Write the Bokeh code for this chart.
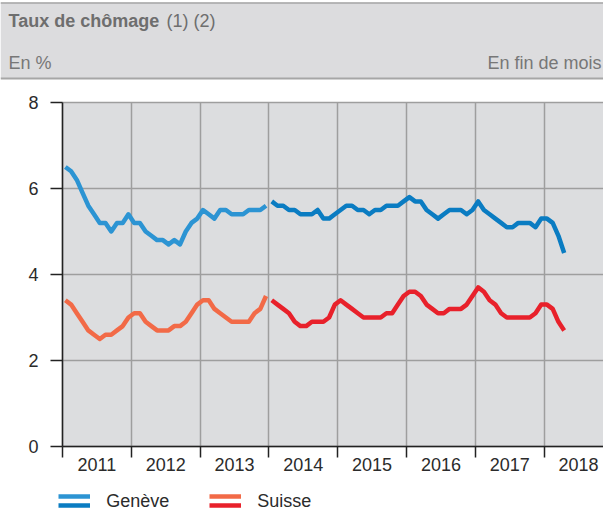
from bokeh.plotting import figure
from bokeh.models import (Range1d, FixedTicker, Legend, LegendItem, Label, Span,
                          BoxAnnotation)
from bokeh.embed import file_html
from bokeh.resources import INLINE

# ---------------- data ----------------
years = [2011, 2012, 2013, 2014, 2015, 2016, 2017, 2018]
y_ticks = [0, 2, 4, 6, 8]

# Monthly unemployment rate (%), series 1: Jan 2011 - Dec 2013
geneve_2011_2013 = [6.5, 6.4, 6.2, 5.9, 5.6, 5.4, 5.2, 5.2, 5.0, 5.2, 5.2, 5.4,
                    5.2, 5.2, 5.0, 4.9, 4.8, 4.8, 4.7, 4.8, 4.7, 5.0, 5.2, 5.3,
                    5.5, 5.4, 5.3, 5.5, 5.5, 5.4, 5.4, 5.4, 5.5, 5.5, 5.5, 5.6]
suisse_2011_2013 = [3.4, 3.3, 3.1, 2.9, 2.7, 2.6, 2.5, 2.6, 2.6, 2.7, 2.8, 3.0,
                    3.1, 3.1, 2.9, 2.8, 2.7, 2.7, 2.7, 2.8, 2.8, 2.9, 3.1, 3.3,
                    3.4, 3.4, 3.2, 3.1, 3.0, 2.9, 2.9, 2.9, 2.9, 3.1, 3.2, 3.5]
# series 2: Jan 2014 - Apr 2018
geneve_2014_2018 = [5.7, 5.6, 5.6, 5.5, 5.5, 5.4, 5.4, 5.4, 5.5, 5.3, 5.3, 5.4,
                    5.5, 5.6, 5.6, 5.5, 5.5, 5.4, 5.5, 5.5, 5.6, 5.6, 5.6, 5.7,
                    5.8, 5.7, 5.7, 5.5, 5.4, 5.3, 5.4, 5.5, 5.5, 5.5, 5.4, 5.5,
                    5.7, 5.5, 5.4, 5.3, 5.2, 5.1, 5.1, 5.2, 5.2, 5.2, 5.1, 5.3,
                    5.3, 5.2, 4.9, 4.5]
suisse_2014_2018 = [3.4, 3.3, 3.2, 3.1, 2.9, 2.8, 2.8, 2.9, 2.9, 2.9, 3.0, 3.3,
                    3.4, 3.3, 3.2, 3.1, 3.0, 3.0, 3.0, 3.0, 3.1, 3.1, 3.3, 3.5,
                    3.6, 3.6, 3.5, 3.3, 3.2, 3.1, 3.1, 3.2, 3.2, 3.2, 3.3, 3.5,
                    3.7, 3.6, 3.4, 3.3, 3.1, 3.0, 3.0, 3.0, 3.0, 3.0, 3.1, 3.3,
                    3.3, 3.2, 2.9, 2.7]
start_old = 2011
start_new = 2014

title_bold = "Taux de chômage"
title_notes = "(1) (2)"
unit_left = "En %"
unit_right = "En fin de mois"
series_names = ["Genève", "Suisse"]

# ---------------- style / layout ----------------
FONT = "Liberation Sans"
BAND = "#dcdcde"
PLOT_BG = "#dcdddf"
GRID = "#9e9e9e"
AXIS = "#222222"
TXT = "#2b2b2b"
HDR_TXT = "#6e6e6e"
C_GE_OLD = "#2c94d3"
C_GE_NEW = "#0a7cc2"
C_CH_OLD = "#f26a47"
C_CH_NEW = "#e8212b"

W, H = 603, 511
LEFT_PX, TOP_PX, BOTTOM_PX = 62, 102, 446     # plot area edges in pixels
PX_PER_YEAR = 68.8
Y_MAX = 8
PX_PER_UNIT = (BOTTOM_PX - TOP_PX) / Y_MAX


def px_x(px):
    return years[0] + (px - LEFT_PX) / PX_PER_YEAR


def px_y(py):
    return (BOTTOM_PX - py) / PX_PER_UNIT


def month_x(start, n):
    return [start + (i + 0.5) / 12 for i in range(n)]


x_end = px_x(W)
p = figure(width=W, height=H, x_range=Range1d(px_x(0), x_end),
           y_range=Range1d(px_y(H), px_y(0)),
           output_backend="svg", toolbar_location=None,
           min_border=0, min_border_left=0, min_border_right=0,
           min_border_top=0, min_border_bottom=0)
p.background_fill_color = "white"
p.border_fill_color = "white"
p.outline_line_color = None

# plot area and header band backgrounds
p.add_layout(BoxAnnotation(left=years[0], bottom=0, top=Y_MAX, fill_color=PLOT_BG,
                           fill_alpha=1, line_color=None, level="image"))
p.add_layout(BoxAnnotation(bottom=px_y(78), top=px_y(2), fill_color=BAND,
                           fill_alpha=1, line_color=None, level="image"))
p.add_layout(Span(location=px_y(2.5), dimension="width", line_color="#a6a6a6",
                  line_width=1.5, level="underlay"))
p.add_layout(Span(location=px_y(78), dimension="width", line_color="#a6a6a6",
                  line_width=2, level="underlay"))

# header texts
p.add_layout(Label(x=px_x(8), y=px_y(20), text=title_bold, text_font=FONT,
                   text_font_style="bold", text_font_size="18px",
                   text_color=HDR_TXT, text_baseline="middle"))
p.add_layout(Label(x=px_x(166), y=px_y(20), text=title_notes, text_font=FONT,
                   text_font_size="18px", text_color=HDR_TXT, text_baseline="middle"))
p.add_layout(Label(x=px_x(8), y=px_y(62), text=unit_left, text_font=FONT,
                   text_font_size="18px", text_color="#777777", text_baseline="middle"))
p.add_layout(Label(x=px_x(601), y=px_y(62), text=unit_right, text_font=FONT,
                   text_font_size="18px", text_color="#777777", text_baseline="middle",
                   text_align="right"))

# axes at fixed locations
mids = [y + 0.5 for y in years]
p.xaxis.fixed_location = 0
p.xaxis.bounds = (years[0], x_end)
p.xaxis.ticker = FixedTicker(ticks=mids, minor_ticks=years)
p.xaxis.major_label_overrides = {m: str(y) for m, y in zip(mids, years)}
p.xaxis.major_tick_line_color = None
p.xaxis.major_tick_out = 0
p.xaxis.major_tick_in = 0
p.xaxis.minor_tick_out = 11
p.xaxis.minor_tick_in = 0
p.xaxis.minor_tick_line_color = AXIS
p.xaxis.minor_tick_line_width = 1.5
p.xaxis.major_label_standoff = 0

p.yaxis.fixed_location = years[0]
p.yaxis.bounds = (0, Y_MAX)
p.yaxis.ticker = FixedTicker(ticks=y_ticks)
p.yaxis.major_tick_out = 12
p.yaxis.major_tick_in = 0
p.yaxis.major_tick_line_color = AXIS
p.yaxis.major_tick_line_width = 1.5
p.yaxis.minor_tick_line_color = None
p.yaxis.major_label_standoff = 12

for ax in (p.xaxis, p.yaxis):
    ax.axis_line_color = AXIS
    ax.axis_line_width = 1.5
    ax.major_label_text_font = FONT
    ax.major_label_text_font_size = "18px"
    ax.major_label_text_color = TXT

p.xgrid.ticker = FixedTicker(ticks=years)
p.xgrid.bounds = (years[0], x_end)
p.xgrid.cross_bounds = (0, Y_MAX)
p.xgrid.grid_line_color = GRID
p.xgrid.grid_line_width = 1.5
p.ygrid.ticker = FixedTicker(ticks=y_ticks)
p.ygrid.bounds = (0, Y_MAX)
p.ygrid.cross_bounds = (years[0], x_end)
p.ygrid.grid_line_color = GRID
p.ygrid.grid_line_width = 1.5

# series
x_old = month_x(start_old, len(geneve_2011_2013))
x_new = month_x(start_new, len(geneve_2014_2018))
r_ge_old = p.line(x_old, geneve_2011_2013, line_color=C_GE_OLD, line_width=4.5, line_join="round")
r_ch_old = p.line(x_old, suisse_2011_2013, line_color=C_CH_OLD, line_width=4.5, line_join="round")
r_ge_new = p.line(x_new, geneve_2014_2018, line_color=C_GE_NEW, line_width=4.5, line_join="round")
r_ch_new = p.line(x_new, suisse_2014_2018, line_color=C_CH_NEW, line_width=4.5, line_join="round")


def make_legend(items, loc, glyph_w, standoff, label_w, size="18px"):
    return Legend(items=items, location=loc, orientation="horizontal",
                  glyph_width=glyph_w, glyph_height=20, label_height=20,
                  label_standoff=standoff, label_width=label_w, spacing=0,
                  padding=0, margin=0, border_line_color=None,
                  background_fill_alpha=0, label_text_font=FONT,
                  label_text_font_size=size, label_text_color=TXT)

# two-colour legend keys (first-series colour on top, second-series below)
leg_a = make_legend([LegendItem(label=" ", renderers=[r_ge_old]),
                     LegendItem(label=" ", renderers=[r_ch_old])],
                    (58.3, 5.2), 32, 16, 103, "8px")
leg_b = make_legend([LegendItem(label=" ", renderers=[r_ge_new]),
                     LegendItem(label=" ", renderers=[r_ch_new])],
                    (58.3, -4.2), 32, 16, 103, "8px")
leg_c = make_legend([LegendItem(label=series_names[0], renderers=[r_ge_new]),
                     LegendItem(label=series_names[1], renderers=[r_ch_new])],
                    (58.3, -0.5), 0, 48, 103)
for lg in (leg_a, leg_b, leg_c):
    p.add_layout(lg, "center")

open("out.html", "w").write(file_html(p, INLINE))
